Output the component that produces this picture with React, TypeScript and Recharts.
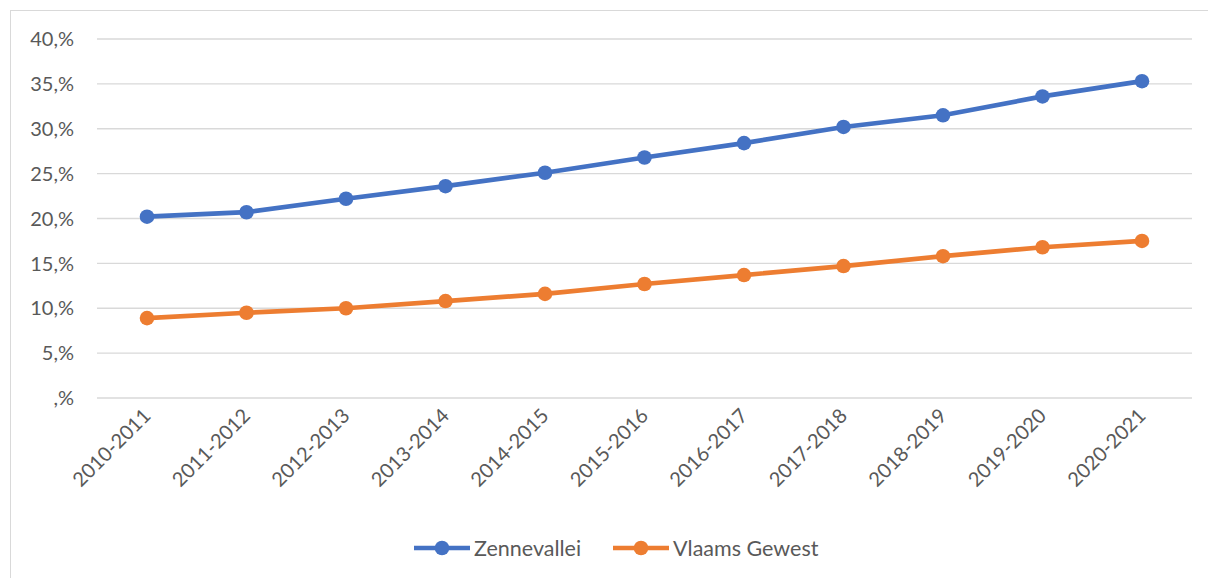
import React from "react";
import { LineChart, Line, XAxis, YAxis, CartesianGrid, Legend } from "recharts";

const categories = [
  "2010-2011", "2011-2012", "2012-2013", "2013-2014", "2014-2015", "2015-2016",
  "2016-2017", "2017-2018", "2018-2019", "2019-2020", "2020-2021",
];
const seriesNames = ["Zennevallei", "Vlaams Gewest"];
const zennevallei = [20.2, 20.7, 22.2, 23.6, 25.1, 26.8, 28.4, 30.2, 31.5, 33.6, 35.3];
const vlaamsGewest = [8.9, 9.5, 10.0, 10.8, 11.6, 12.7, 13.7, 14.7, 15.8, 16.8, 17.5];
const yTicks = [0, 5, 10, 15, 20, 25, 30, 35, 40];

const data = categories.map((c, i) => ({
  cat: c,
  [seriesNames[0]]: zennevallei[i],
  [seriesNames[1]]: vlaamsGewest[i],
}));

const FONT = "Lato, 'Open Sans', sans-serif";
const TEXT = "#595959";

const XTick = (props: any) => {
  const { x, y, payload } = props;
  return (
    <g transform={`translate(${x + 5},${y + 19})`}>
      <text transform="rotate(-45)" textAnchor="end" fill={TEXT} fontSize={20} fontFamily={FONT}>
        {payload.value}
      </text>
    </g>
  );
};

const YTick = (props: any) => {
  const { x, y, payload } = props;
  const v = payload.value;
  return (
    <text x={x} y={y} dy="0.36em" textAnchor="end" fill={TEXT} fontSize={20} fontFamily={FONT}>
      {v === 0 ? ",%" : `${v},%`}
    </text>
  );
};

const LegendContent = (props: any) => {
  const payload = [...(props.payload || [])].sort(
    (a: any, b: any) => seriesNames.indexOf(a.value) - seriesNames.indexOf(b.value)
  );
  return (
    <div style={{ display: "flex", alignItems: "center", height: 24, fontFamily: FONT, fontSize: 21.5, color: TEXT }}>
      {payload.map((p: any, i: number) => (
        <div key={i} style={{ display: "flex", alignItems: "center", marginRight: 32 }}>
          <svg width={56} height={16} style={{ marginRight: 4 }}>
            <line x1={1} y1={8} x2={55} y2={8} stroke={p.color} strokeWidth={4.7} strokeLinecap="round" />
            <circle cx={28} cy={8} r={7.3} fill={p.color} />
          </svg>
          <span style={{ lineHeight: "24px" }}>{p.value}</span>
        </div>
      ))}
    </div>
  );
};

export default function App() {
  return (
    <div style={{ position: "fixed", left: 0, top: 0, width: 1208, height: 578, overflow: "hidden", background: "#fff" }}>
      <div
        style={{
          position: "absolute",
          left: 10,
          top: 10,
          width: 1300,
          height: 700,
          borderLeft: "1.5px solid #d9d9d9",
          borderTop: "1.5px solid #d9d9d9",
        }}
      />
      <div style={{ position: "absolute", left: 0, top: 0 }}>
        <LineChart width={1200} height={570} data={data} margin={{ top: 39, right: 8, bottom: 10, left: 17 }}>
          <CartesianGrid vertical={false} stroke="#d9d9d9" strokeWidth={1.3} />
          <XAxis
            dataKey="cat"
            axisLine={false}
            tickLine={false}
            tickSize={0}
            tickMargin={0}
            height={138}
            interval={0}
            padding={{ left: 50, right: 50 }}
            tick={<XTick />}
          />
          <YAxis
            domain={[0, 40]}
            ticks={yTicks}
            axisLine={false}
            tickLine={false}
            tickSize={0}
            tickMargin={23}
            width={80}
            interval={0}
            tick={<YTick />}
          />
          <Legend
            verticalAlign="bottom"
            content={<LegendContent />}
            wrapperStyle={{ top: 536, left: 414, width: 520, height: 24 }}
          />
          <Line
            type="linear"
            dataKey={seriesNames[0]}
            stroke="#4472C4"
            strokeWidth={4.7}
            dot={{ r: 7.3, fill: "#4472C4", stroke: "#4472C4", strokeWidth: 0 }}
            activeDot={false}
            isAnimationActive={false}
          />
          <Line
            type="linear"
            dataKey={seriesNames[1]}
            stroke="#ED7D31"
            strokeWidth={4.7}
            dot={{ r: 7.3, fill: "#ED7D31", stroke: "#ED7D31", strokeWidth: 0 }}
            activeDot={false}
            isAnimationActive={false}
          />
        </LineChart>
      </div>
    </div>
  );
}
